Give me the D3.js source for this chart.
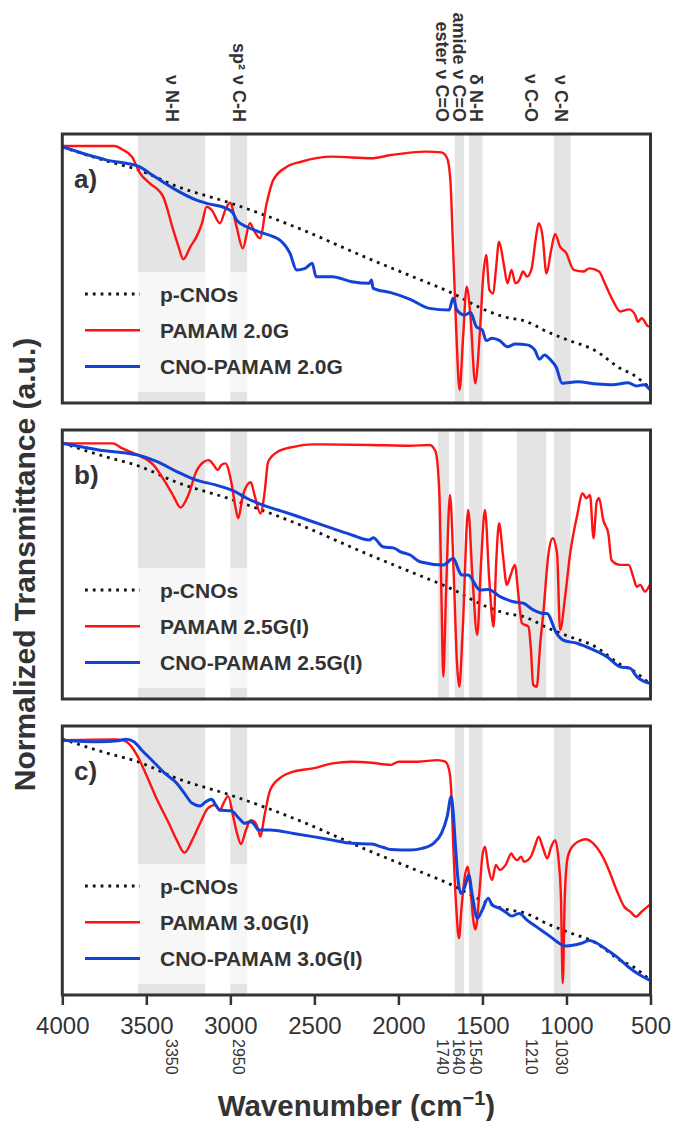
<!DOCTYPE html>
<html>
<head>
<meta charset="utf-8">
<script src="https://cdn.jsdelivr.net/npm/d3@7"></script>
<style>
  body { margin: 0; background: #fff; }
  text { font-family: "Liberation Sans", Arial, sans-serif; fill: #333; }
</style>
</head>
<body>
<svg id="chart"></svg>
<script>
// ---- data: [wavenumber (cm-1), normalized transmittance (% of panel)] ----
var pCNOs = [[4000,96],[3750,91],[3550,87.5],[3320,81.3],[3000,75],[2620,66.2],[2160,53.7],[1900,47],
  [1690,41.5],[1470,34.5],[1350,32],[1260,31],[1200,29.5],[1140,27.5],[1000,23.8],[830,19.7],
  [680,13],[600,10.5],[500,5.4]];

var pamam20 = [[4000,96.4],[3690,96.4],[3643,95.1],[3586,92.4],[3537,86.1],[3479,82.4],[3400,77.4],
  [3340,64.9],[3308,58.6],[3280,53.9],[3238,58.6],[3201,62.4],[3169,67.4],[3141,73.6],[3111,72.4],
  [3062,67.4],[3030,72.4],[3002,75.1],[2963,66.1],[2926,58],[2884,67.4],[2856,64.3],[2824,61.8],
  [2784,74.9],[2745,83.6],[2664,88.6],[2578,90.5],[2393,92.4],[2161,91.8],[2045,93],[1837,94.3],
  [1744,94],[1710,91.8],[1691,83.6],[1675,58.6],[1656,27.4],[1636,4.9],[1615,24.9],[1594,43.6],
  [1571,32.4],[1543,7.4],[1517,24.9],[1494,48.6],[1478,55.5],[1459,42.4],[1436,41.1],[1420,49.9],
  [1401,60.5],[1374,52.4],[1351,44.9],[1327,49.9],[1304,44.9],[1281,46.1],[1258,49.3],[1235,47.4],
  [1207,50.5],[1184,61.1],[1165,67.4],[1142,62.4],[1119,48.6],[1091,57.4],[1068,63.4],[1038,58.6],
  [1003,56.4],[957,49.9],[899,49.3],[864,50.5],[806,49.3],[772,44.9],[725,38.6],[679,34.3],
  [628,35.1],[591,33],[575,30.5],[552,31.8],[517,28.9],[500,28.6]];

var cnoPamam20 = [[4000,96.1],[3736,91.1],[3539,88.6],[3479,86.1],[3340,80.5],[3201,76.1],[3141,74.9],
  [3023,73],[2983,71.1],[2963,68.6],[2902,66.1],[2833,64.3],[2745,62.4],[2705,61.1],[2645,56.1],
  [2606,49.9],[2555,50.5],[2513,52.4],[2490,47.4],[2393,47.4],[2277,45.5],[2173,44.9],[2161,46.1],
  [2150,43],[2045,41.4],[1930,38.9],[1814,35.5],[1698,34.9],[1675,39.3],[1652,34.9],[1605,33],
  [1571,33.9],[1536,28.6],[1501,27.4],[1478,23.4],[1443,24.3],[1397,23.4],[1351,21.1],[1304,22.1],
  [1235,21.8],[1189,19.9],[1161,16.4],[1131,18],[1091,15.9],[1061,13.4],[1026,7.4],[934,8],
  [818,7.1],[725,6.8],[633,7.6],[586,6.4],[540,6.8],[505,5.1]];

var pamam25 = [[4000,95.9],[3701,95.9],[3643,94],[3551,91.5],[3458,87.8],[3389,81.5],[3342,76.5],
  [3296,71.8],[3250,76.5],[3203,85.3],[3157,89],[3129,89.6],[3099,87.8],[3076,85.9],[3053,87.8],
  [3030,88.4],[2995,81.5],[2972,72.8],[2953,67.8],[2925,76.5],[2879,81.3],[2856,76.5],[2821,69.6],
  [2798,76.5],[2775,89],[2717,92.8],[2624,94.6],[2509,95.5],[2161,95.3],[1930,95],[1814,95.3],
  [1779,92.8],[1756,76.5],[1744,39],[1733,8.4],[1717,39],[1693,76.5],[1670,45.3],[1652,14],
  [1638,4.6],[1617,26.5],[1585,70.9],[1559,45.3],[1531,24],[1508,51.5],[1485,70.9],[1460,45.3],
  [1434,27.1],[1418,51.5],[1401,65.9],[1378,54],[1355,42.8],[1332,46.5],[1307,50.3],[1286,39],
  [1265,28.4],[1226,27.1],[1212,19],[1198,5.3],[1177,4.6],[1156,20.9],[1138,32.1],[1107,54.6],
  [1082,60.3],[1056,54.6],[1038,25.9],[1008,38.4],[978,54.6],[938,68.4],[904,77.1],[881,75.3],
  [860,76.5],[839,60.3],[820,74],[806,75.3],[781,67.1],[751,62.1],[732,52.1],[681,50.3],
  [630,50.3],[603,45.9],[582,42.1],[561,42.8],[533,40.3],[505,42.8]];

var cnoPamam25 = [[4000,95.9],[3782,93.4],[3551,91.5],[3435,89],[3319,85.3],[3203,82.1],[3088,80.3],
  [2972,77.8],[2902,75.3],[2810,72.8],[2717,70.9],[2624,69],[2509,66.5],[2393,64],[2277,61.5],
  [2173,59.6],[2150,60.5],[2092,57.1],[2022,56.5],[1990,55.3],[1930,54],[1872,51.5],[1733,50.3],
  [1673,52.8],[1642,48.4],[1624,46.5],[1585,46.5],[1515,40.9],[1464,41.1],[1395,38.4],[1316,36.5],
  [1256,35.9],[1198,33.4],[1138,32.1],[1117,32.1],[1059,24.6],[1020,22.1],[938,20.9],[839,18.4],
  [760,15.9],[681,12.1],[621,11.5],[582,8.4],[505,5.9]];

var pamam30 = [[4000,95.6],[3690,95.9],[3632,95.4],[3597,93.8],[3551,89.4],[3504,83.1],[3435,73.1],
  [3366,64.4],[3319,58.1],[3273,53.4],[3227,58.1],[3180,64.4],[3134,70],[3088,71.3],[3064,69.1],
  [3041,71.9],[3013,74.6],[2983,66.9],[2960,60.6],[2937,56.6],[2907,61.9],[2879,65.6],[2856,65],
  [2833,61.9],[2821,59.4],[2798,66.9],[2763,76.9],[2694,81.9],[2624,83.8],[2509,85],[2393,86.9],
  [2277,87.5],[2161,87.1],[2045,86.3],[1999,87.5],[1883,87.5],[1767,88.1],[1721,87.5],[1698,84.4],
  [1686,76.9],[1675,58.1],[1656,33.1],[1640,21.3],[1624,33.1],[1605,44.4],[1589,48.1],[1571,39.4],
  [1552,26.9],[1541,24.6],[1517,39.4],[1501,51.9],[1485,55.6],[1466,48.1],[1443,43.1],[1420,48.8],
  [1397,46.9],[1362,48.8],[1327,53.1],[1316,51.9],[1293,50.6],[1270,51.9],[1253,50],[1212,51.9],
  [1189,55.6],[1165,59.4],[1142,55.6],[1114,51.3],[1091,55.6],[1068,58.1],[1045,49.4],[1033,36.9],
  [1022,4.4],[1010,36.9],[992,51.9],[957,56.3],[911,58.1],[887,58.4],[841,56.9],[795,53.1],
  [748,46.9],[702,39.4],[656,33.1],[621,31.3],[586,29.4],[552,31.3],[505,33.8]];

var cnoPamam30 = [[4000,95.6],[3782,95],[3667,95.4],[3620,95.9],[3574,95],[3528,91.9],[3458,87.5],
  [3389,83.1],[3319,79.4],[3273,75.6],[3227,71.9],[3180,70.9],[3146,72.5],[3111,73.4],[3088,71.3],
  [3064,69.4],[2995,69.1],[2949,66.3],[2914,64.4],[2879,65],[2856,63.8],[2833,61.9],[2763,61.9],
  [2624,60.6],[2509,59.4],[2393,58.1],[2277,56.9],[2161,56.6],[2092,55.4],[2045,54.6],[1930,54.4],
  [1860,55],[1791,56.9],[1744,60.6],[1710,66.9],[1686,74.4],[1675,69.4],[1663,58.1],[1647,44.4],
  [1629,38.1],[1605,40.6],[1582,45],[1559,36.9],[1531,28.8],[1501,31.9],[1466,36.3],[1443,33.8],
  [1397,32.5],[1351,30.6],[1327,29.6],[1281,30.6],[1235,28.1],[1165,25],[1096,21.9],[1026,18.8],
  [1003,18.4],[911,19.4],[864,20.4],[818,19.4],[772,17.5],[702,14.4],[633,10.6],[563,7.5],[505,5.6]];

// shaded assignment bands [from, to] in cm-1
var bandsA = [[3550,3150],[3000,2900],[1665,1610],[1580,1500],[1075,975]];
var bandsB = [[3550,3150],[3000,2900],[1765,1700],[1665,1610],[1580,1500],[1295,1120],[1075,975]];
var bandsC = [[3550,3150],[3000,2900],[1665,1610],[1580,1500],[1075,975]];

var panelNames = ["a)", "b)", "c)"];
var legendA = ["p-CNOs", "PAMAM 2.0G", "CNO-PAMAM 2.0G"];
var legendB = ["p-CNOs", "PAMAM 2.5G(I)", "CNO-PAMAM 2.5G(I)"];
var legendC = ["p-CNOs", "PAMAM 3.0G(I)", "CNO-PAMAM 3.0G(I)"];

var peakPositions = [3350, 2950, 1740, 1640, 1540, 1210, 1030];
var peakNames = ["\u03bd N-H", "sp\u00b2 \u03bd C-H", "ester \u03bd C=O", "amide \u03bd C=O", "\u03b4 N-H", "\u03bd C-O", "\u03bd C-N"];

var majorTicks = [4000, 3500, 3000, 2500, 2000, 1500, 1000, 500];
var minorTicks = [3750, 3250, 2750, 2250, 1750, 1250, 750];

// ---- layout ----
var width = 673, height = 1121;
var panelTops = [134, 430, 726];
var panelH = 269;
var left = 62.3, right = 650.5;

var svg = d3.select("#chart").attr("width", width).attr("height", height);

var x = d3.scaleLinear().domain([4000, 500]).range([left, right]);

var styles = [
  {color: "#111", width: 2.8, dash: "2.8,5"},
  {color: "#ff1212", width: 2.4, dash: null},
  {color: "#1242d6", width: 3, dash: null}
];

var panels = [
  {name: panelNames[0], bands: bandsA, series: [pCNOs, pamam20, cnoPamam20], legend: legendA, boxW: 225},
  {name: panelNames[1], bands: bandsB, series: [pCNOs, pamam25, cnoPamam25], legend: legendB, boxW: 305},
  {name: panelNames[2], bands: bandsC, series: [pCNOs, pamam30, cnoPamam30], legend: legendC, boxW: 305}
];

panels.forEach(function(p, i){
  var top = panelTops[i];
  var y = d3.scaleLinear().domain([0, 100.9]).range([top + panelH, top]);
  var g = svg.append("g");

  g.append("clipPath").attr("id", "clip" + i)
    .append("rect").attr("x", left).attr("y", top).attr("width", right - left).attr("height", panelH);

  g.selectAll(".band")
    .data(p.bands)
    .enter()
    .append("rect")
      .attr("x", d => x(d[0]))
      .attr("width", d => x(d[1]) - x(d[0]))
      .attr("y", top)
      .attr("height", panelH)
      .attr("fill", "#e4e4e4");

  var line = d3.line()
    .x(d => x(d[0]))
    .y(d => y(d[1]))
    .curve(d3.curveMonotoneX);

  p.series.forEach(function(s, k){
    g.append("path")
      .attr("d", line(s))
      .attr("clip-path", "url(#clip" + i + ")")
      .attr("fill", "none")
      .attr("stroke", styles[k].color)
      .attr("stroke-width", styles[k].width)
      .attr("stroke-linejoin", "round")
      .attr("stroke-dasharray", styles[k].dash);
  });

  // legend
  g.append("rect")
    .attr("x", 68).attr("y", top + 138)
    .attr("width", p.boxW).attr("height", 120)
    .attr("rx", 4)
    .attr("fill", "#fff").attr("fill-opacity", 0.7);

  p.legend.forEach(function(lbl, k){
    var ly = top + 160 + k * 36.3;
    g.append("line")
      .attr("x1", 85).attr("x2", 140)
      .attr("y1", ly).attr("y2", ly)
      .attr("stroke", styles[k].color)
      .attr("stroke-width", styles[k].width)
      .attr("stroke-dasharray", styles[k].dash);
    g.append("text")
      .attr("x", 160).attr("y", ly)
      .attr("dy", "0.36em")
      .attr("font-size", 21).attr("font-weight", "bold")
      .text(lbl);
  });

  g.append("text")
    .attr("x", 74).attr("y", top + 54)
    .attr("font-size", 26).attr("font-weight", "bold")
    .text(p.name);

  g.append("rect")
    .attr("x", left).attr("y", top)
    .attr("width", right - left).attr("height", panelH)
    .attr("fill", "none").attr("stroke", "#333").attr("stroke-width", 3);
});

// bottom axis on last panel
var axisY = panelTops[2] + panelH;
var axisG = svg.append("g").attr("transform", "translate(0," + axisY + ")");
axisG.call(d3.axisBottom(x).tickValues(minorTicks).tickSize(6).tickFormat(""));
axisG.call(d3.axisBottom(x).tickValues(majorTicks).tickSize(10).tickPadding(12).tickFormat(d3.format("d")));
axisG.selectAll(".domain").remove();
axisG.selectAll(".tick line").attr("stroke", "#333").attr("stroke-width", 2.5);
axisG.selectAll(".tick text")
  .attr("font-size", 24)
  .attr("font-family", "\"Liberation Sans\", Arial, sans-serif")
  .attr("fill", "#333");

// small wavenumber marks below axis
svg.selectAll(".peaknum")
  .data(peakPositions)
  .enter()
  .append("text")
    .attr("transform", d => "translate(" + x(d) + ",1039) rotate(90)")
    .attr("dominant-baseline", "central")
    .attr("font-size", 16)
    .text(d => d);

// assignment labels above top panel
svg.selectAll(".peakname")
  .data(peakPositions)
  .enter()
  .append("text")
    .attr("transform", d => "translate(" + x(d) + ",122) rotate(90)")
    .attr("text-anchor", "end")
    .attr("dominant-baseline", "central")
    .attr("font-size", 18).attr("font-weight", "bold")
    .text((d, i) => peakNames[i]);

// axis titles
var xt = svg.append("text")
  .attr("x", (left + right) / 2).attr("y", 1116)
  .attr("text-anchor", "middle")
  .attr("font-size", 29.5).attr("font-weight", "bold");
xt.append("tspan").text("Wavenumber (cm");
xt.append("tspan").attr("baseline-shift", "super").attr("font-size", 20).text("\u22121");
xt.append("tspan").text(")");

svg.append("text")
  .attr("transform", "translate(24," + ((panelTops[0] + panelTops[2] + panelH) / 2) + ") rotate(-90)")
  .attr("text-anchor", "middle")
  .attr("dominant-baseline", "central")
  .attr("font-size", 30).attr("font-weight", "bold")
  .text("Normalized Transmittance (a.u.)");
</script>
</body>
</html>
